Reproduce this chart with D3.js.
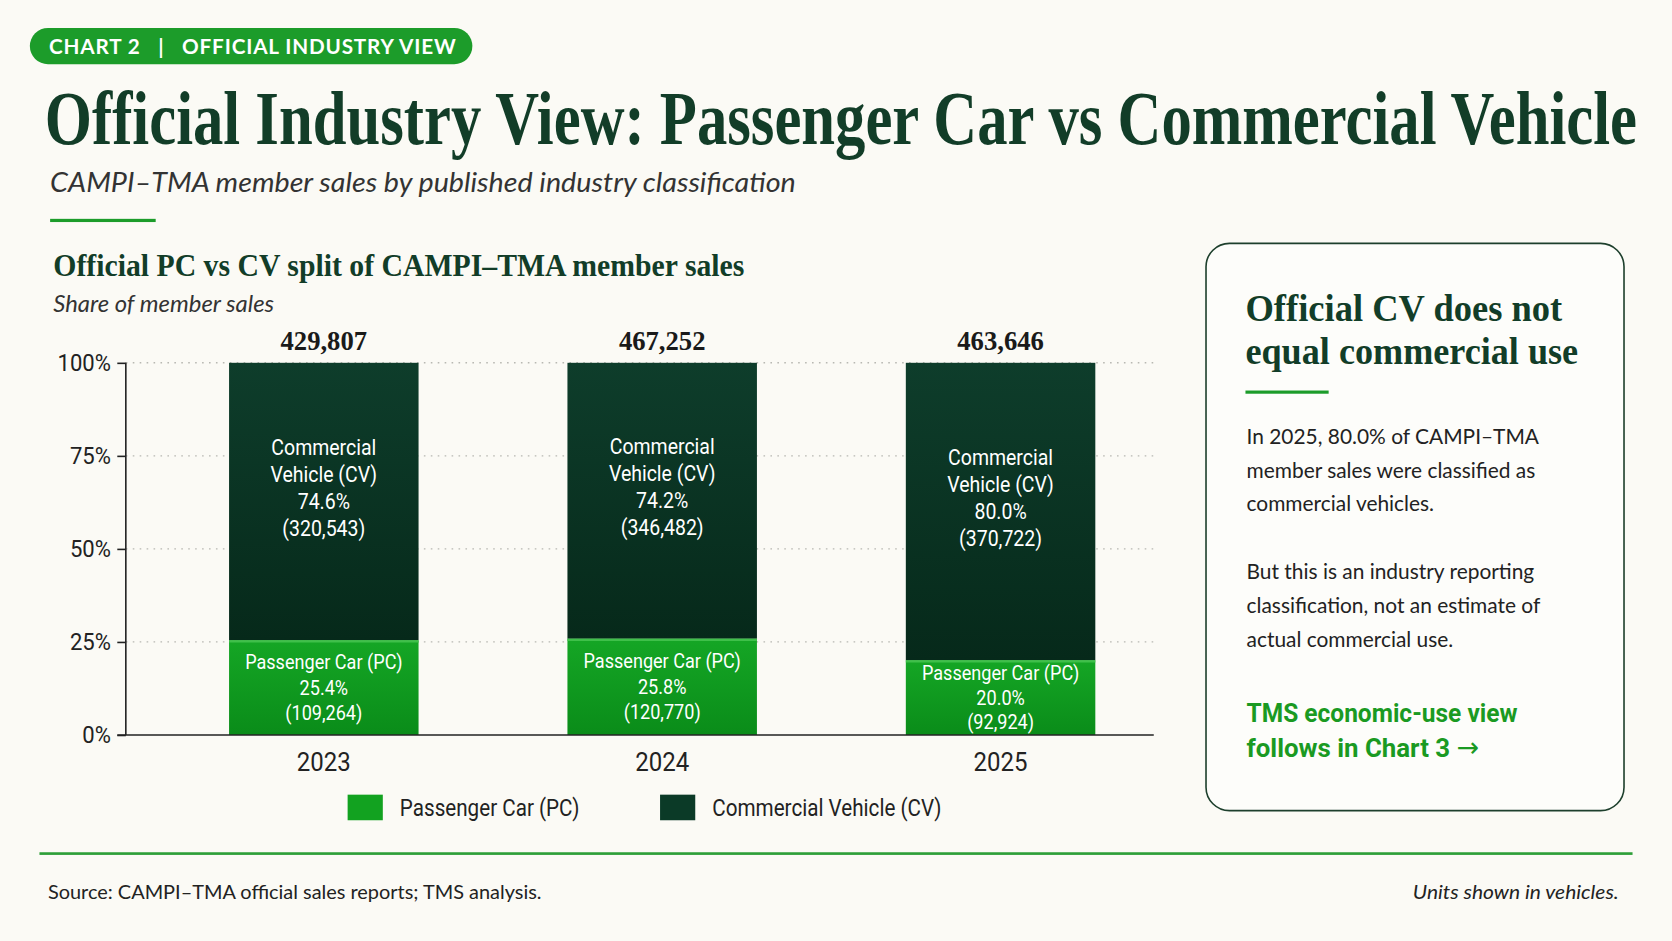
<!DOCTYPE html>
<html>
<head>
<meta charset="utf-8">
<script src="https://cdn.jsdelivr.net/npm/d3@7"></script>
<style>
  html, body { margin: 0; padding: 0; background: #fbfaf5; }
  svg { display: block; }
</style>
</head>
<body>
<div id="chart"></div>
<script>
// data
const years = ["2023", "2024", "2025"];
const pcUnits = [109264, 120770, 92924];
const cvUnits = [320543, 346482, 370722];
const yTicks = [0, 0.25, 0.5, 0.75, 1];
const seriesNames = ["Passenger Car (PC)", "Commercial Vehicle (CV)"];

const panelBody = [
    "In 2025, 80.0% of CAMPI\u2013TMA",
    "member sales were classified as",
    "commercial vehicles.",
    "",
    "But this is an industry reporting",
    "classification, not an estimate of",
    "actual commercial use."
];

// drawing is done in a 1568x882 space, scaled to the window
const W = 1568, H = 882;
const serif = "'Liberation Serif', 'DejaVu Serif', serif";
const sans = "Lato, 'Open Sans', 'Noto Sans', sans-serif";
const cond = "Roboto, 'Noto Sans', sans-serif";
const darkGreen = "#123d28";
const brightGreen = "#1c9c2a";

let svg = d3.select("#chart").append("svg")
    .attr("width", 1672)
    .attr("height", 941)
    .attr("viewBox", `0 0 ${W} ${H}`);

svg.append("rect").attr("width", W).attr("height", H).attr("fill", "#fbfaf5");

// gradients for bar segments
let defs = svg.append("defs");
function grad(id, top, bottom) {
    let g = defs.append("linearGradient").attr("id", id)
        .attr("x1", 0).attr("y1", 0).attr("x2", 0).attr("y2", 1);
    g.append("stop").attr("offset", "0%").attr("stop-color", top);
    g.append("stop").attr("offset", "100%").attr("stop-color", bottom);
}
grad("cvGrad", "#0e3d2b", "#06291a");
grad("pcGrad", "#15a625", "#0a8c19");

// narrow a text horizontally around its anchor point
function scaleText(node, k) {
    let x = +node.getAttribute("x") || 0, y = +node.getAttribute("y") || 0;
    d3.select(node).attr("x", 0).attr("y", 0)
        .attr("transform", `translate(${x},${y}) scale(${k},1)`);
}
function squeeze(sel, k) {
    sel.each(function() { scaleText(this, k); });
}
function fitTo(sel, w) {
    sel.each(function() { scaleText(this, w / this.getComputedTextLength()); });
}

//Header pill
svg.append("rect")
    .attr("x", 28).attr("y", 26).attr("width", 415).attr("height", 34).attr("rx", 17)
    .attr("fill", brightGreen);
svg.append("text")
    .attr("x", 46).attr("y", 50.5)
    .attr("fill", "#fff").attr("font-family", sans).attr("font-size", 20).attr("font-weight", 700)
    .attr("letter-spacing", 0.8)
    .style("white-space", "pre")
    .text("CHART 2   |   OFFICIAL INDUSTRY VIEW")
    .call(fitTo, 382);

//Title
svg.append("text")
    .attr("x", 42).attr("y", 135)
    .attr("fill", darkGreen).attr("font-family", serif).attr("font-size", 71).attr("font-weight", 700)
    .text("Official Industry View: Passenger Car vs Commercial Vehicle")
    .call(fitTo, 1493);

svg.append("text")
    .attr("x", 47).attr("y", 180)
    .attr("fill", "#333").attr("font-family", sans).attr("font-size", 25).attr("font-style", "italic")
    .text("CAMPI\u2013TMA member sales by published industry classification")
    .call(fitTo, 699);

svg.append("rect").attr("x", 47).attr("y", 205).attr("width", 99).attr("height", 3).attr("fill", brightGreen);

//Chart heading
svg.append("text")
    .attr("x", 50).attr("y", 259)
    .attr("fill", darkGreen).attr("font-family", serif).attr("font-size", 30).attr("font-weight", 700)
    .text("Official PC vs CV split of CAMPI\u2013TMA member sales")
    .call(fitTo, 648);

svg.append("text")
    .attr("x", 50).attr("y", 292)
    .attr("fill", "#333").attr("font-family", sans).attr("font-size", 21).attr("font-style", "italic")
    .text("Share of member sales")
    .call(fitTo, 207);

//Scales
const plotLeft = 118, plotRight = 1082, plotTop = 340, plotBottom = 689;
let scaleY = d3.scaleLinear().domain([0, 1]).range([plotBottom, plotTop]);
let scaleX = d3.scaleBand().domain(years).range([145, 1097]).paddingInner(0.44).paddingOuter(0.22);
let scaleColor = d3.scaleOrdinal().domain(seriesNames).range(["url(#pcGrad)", "url(#cvGrad)"]);

let graph = svg.append("g");

// dotted grid
graph.append("g")
    .selectAll("line")
    .data(yTicks.filter(d => d > 0))
    .join("line")
    .attr("x1", plotLeft).attr("x2", plotRight)
    .attr("y1", d => scaleY(d)).attr("y2", d => scaleY(d))
    .attr("stroke", "#b8b8b2").attr("stroke-width", 1.3).attr("stroke-dasharray", "1.5,5");

// y axis
let axisY = d3.axisLeft(scaleY).tickValues(yTicks).tickFormat(d3.format(".0%")).tickSize(8).tickPadding(6);
let gy = graph.append("g")
    .attr("transform", `translate(${plotLeft},0)`)
    .call(axisY);
gy.select(".domain").attr("stroke", "#222").attr("stroke-width", 1.5).attr("d", `M0,${plotTop}V${plotBottom}`);
gy.selectAll(".tick line").attr("stroke", "#222").attr("stroke-width", 1.5);
gy.selectAll(".tick text")
    .attr("font-family", cond).attr("font-size", 23).attr("fill", "#222")
    .attr("x", -14)
    .call(squeeze, 0.9);

// stacked bars
let rows = years.map((y, i) => {
    let total = pcUnits[i] + cvUnits[i];
    return {year: y, pc: pcUnits[i], cv: cvUnits[i], total: total,
        pcShare: pcUnits[i] / total, cvShare: cvUnits[i] / total};
});

let bars = graph.append("g").selectAll("g")
    .data(rows)
    .join("g");

bars.append("rect")
    .attr("x", d => scaleX(d.year)).attr("width", scaleX.bandwidth())
    .attr("y", d => scaleY(1)).attr("height", d => scaleY(d.pcShare) - scaleY(1))
    .attr("fill", scaleColor(seriesNames[1]));
bars.append("rect")
    .attr("x", d => scaleX(d.year)).attr("width", scaleX.bandwidth())
    .attr("y", d => scaleY(d.pcShare)).attr("height", d => scaleY(0) - scaleY(d.pcShare))
    .attr("fill", scaleColor(seriesNames[0]));
// thin highlight on top of PC segment
bars.append("line")
    .attr("x1", d => scaleX(d.year)).attr("x2", d => scaleX(d.year) + scaleX.bandwidth())
    .attr("y1", d => scaleY(d.pcShare) + 1).attr("y2", d => scaleY(d.pcShare) + 1)
    .attr("stroke", "#3fc04a").attr("stroke-width", 2);

const fmtN = d3.format(",");
const fmtP = d3.format(".1%");

// totals above bars
bars.append("text")
    .attr("x", d => scaleX(d.year) + scaleX.bandwidth() / 2)
    .attr("y", 328)
    .attr("text-anchor", "middle")
    .attr("fill", "#1a1a1a").attr("font-family", serif).attr("font-size", 25).attr("font-weight", 700)
    .text(d => fmtN(d.total));

// CV labels
bars.each(function(d) {
    let cx = scaleX(d.year) + scaleX.bandwidth() / 2;
    let cvMid = (scaleY(1) + scaleY(d.pcShare)) / 2;
    let lines = ["Commercial", "Vehicle (CV)", fmtP(d.cvShare), "(" + fmtN(d.cv) + ")"];
    d3.select(this).selectAll("text.cv")
        .data(lines)
        .join("text")
        .attr("class", "cv")
        .attr("x", cx)
        .attr("y", (t, i) => cvMid - 44 + i * 25.5)
        .attr("text-anchor", "middle")
        .attr("fill", "#fff").attr("font-family", cond).attr("font-size", 21)
        .text(t => t)
        .call(squeeze, 0.87);

    let pcMid = (scaleY(d.pcShare) + scaleY(0)) / 2;
    let step = Math.min(24, (scaleY(0) - scaleY(d.pcShare)) / 3.05);
    let pcLines = ["Passenger Car (PC)", fmtP(d.pcShare), "(" + fmtN(d.pc) + ")"];
    d3.select(this).selectAll("text.pc")
        .data(pcLines)
        .join("text")
        .attr("class", "pc")
        .attr("x", cx)
        .attr("y", (t, i) => pcMid - step + 6.5 + i * step)
        .attr("text-anchor", "middle")
        .attr("fill", "#fff").attr("font-family", cond).attr("font-size", 19.5)
        .text(t => t)
        .call(squeeze, 0.87);
});

// x axis
let axisX = d3.axisBottom(scaleX).tickSize(0).tickPadding(16);
let gx = graph.append("g")
    .attr("transform", `translate(0,${plotBottom})`)
    .call(axisX);
gx.select(".domain").attr("stroke", "#222").attr("stroke-width", 1.5).attr("d", `M${plotLeft - 8},0H${plotRight}`);
gx.selectAll(".tick text")
    .attr("font-family", cond).attr("font-size", 25).attr("fill", "#222")
    .attr("y", 16)
    .call(squeeze, 0.9);

// legend
const legendX = [326, 619];
let legend = svg.append("g").selectAll("g")
    .data(seriesNames)
    .join("g")
    .attr("transform", (d, i) => `translate(${legendX[i]},745)`);
legend.append("rect")
    .attr("width", 33).attr("height", 24)
    .attr("fill", (d, i) => i === 0 ? "#12a220" : "#0b3a27");
legend.append("text")
    .attr("x", 49).attr("y", 20)
    .attr("fill", "#222").attr("font-family", cond).attr("font-size", 22)
    .text(d => d)
    .call(squeeze, 0.88);

// footer
svg.append("rect").attr("x", 37).attr("y", 799).attr("width", 1494).attr("height", 2.5).attr("fill", "#2e9f38");
svg.append("text")
    .attr("x", 45).attr("y", 843)
    .attr("fill", "#222").attr("font-family", sans).attr("font-size", 18)
    .text("Source: CAMPI\u2013TMA official sales reports; TMS analysis.")
    .call(fitTo, 463);
svg.append("text")
    .attr("x", 1518).attr("y", 843)
    .attr("text-anchor", "end")
    .attr("fill", "#222").attr("font-family", sans).attr("font-size", 18.5).attr("font-style", "italic")
    .text("Units shown in vehicles.")
    .call(fitTo, 193);

// side panel
let panel = svg.append("g");
panel.append("rect")
    .attr("x", 1131).attr("y", 228).attr("width", 392).attr("height", 532).attr("rx", 22)
    .attr("fill", "#fdfdfa").attr("stroke", "#1d3f2c").attr("stroke-width", 1.5);
panel.append("text")
    .attr("x", 1168).attr("y", 301)
    .attr("fill", darkGreen).attr("font-family", serif).attr("font-size", 36).attr("font-weight", 700)
    .text("Official CV does not")
    .call(fitTo, 297);
panel.append("text")
    .attr("x", 1168).attr("y", 341)
    .attr("fill", darkGreen).attr("font-family", serif).attr("font-size", 36).attr("font-weight", 700)
    .text("equal commercial use")
    .call(fitTo, 312);
panel.append("rect").attr("x", 1168).attr("y", 366).attr("width", 78).attr("height", 3).attr("fill", brightGreen);

panel.selectAll("text.body")
    .data(panelBody)
    .join("text")
    .attr("class", "body")
    .attr("x", 1169)
    .attr("y", (d, i) => 416 + i * 31.7)
    .attr("fill", "#222").attr("font-family", sans).attr("font-size", 20)
    .text(d => d)
    .call(squeeze, 0.98);

panel.append("text")
    .attr("x", 1169).attr("y", 677)
    .attr("fill", "#1a9a22").attr("font-family", cond).attr("font-size", 25).attr("font-weight", 700)
    .text("TMS economic-use view")
    .call(fitTo, 254);
let link2 = panel.append("text")
    .attr("x", 1169).attr("y", 710)
    .attr("fill", "#1a9a22").attr("font-family", cond).attr("font-size", 25).attr("font-weight", 700);
link2.append("tspan").text("follows in Chart 3 ");
link2.append("tspan").attr("font-family", "'DejaVu Sans', sans-serif").attr("font-weight", 400).attr("font-size", 26).text("\u2192");
link2.call(fitTo, 218);
</script>
</body>
</html>
